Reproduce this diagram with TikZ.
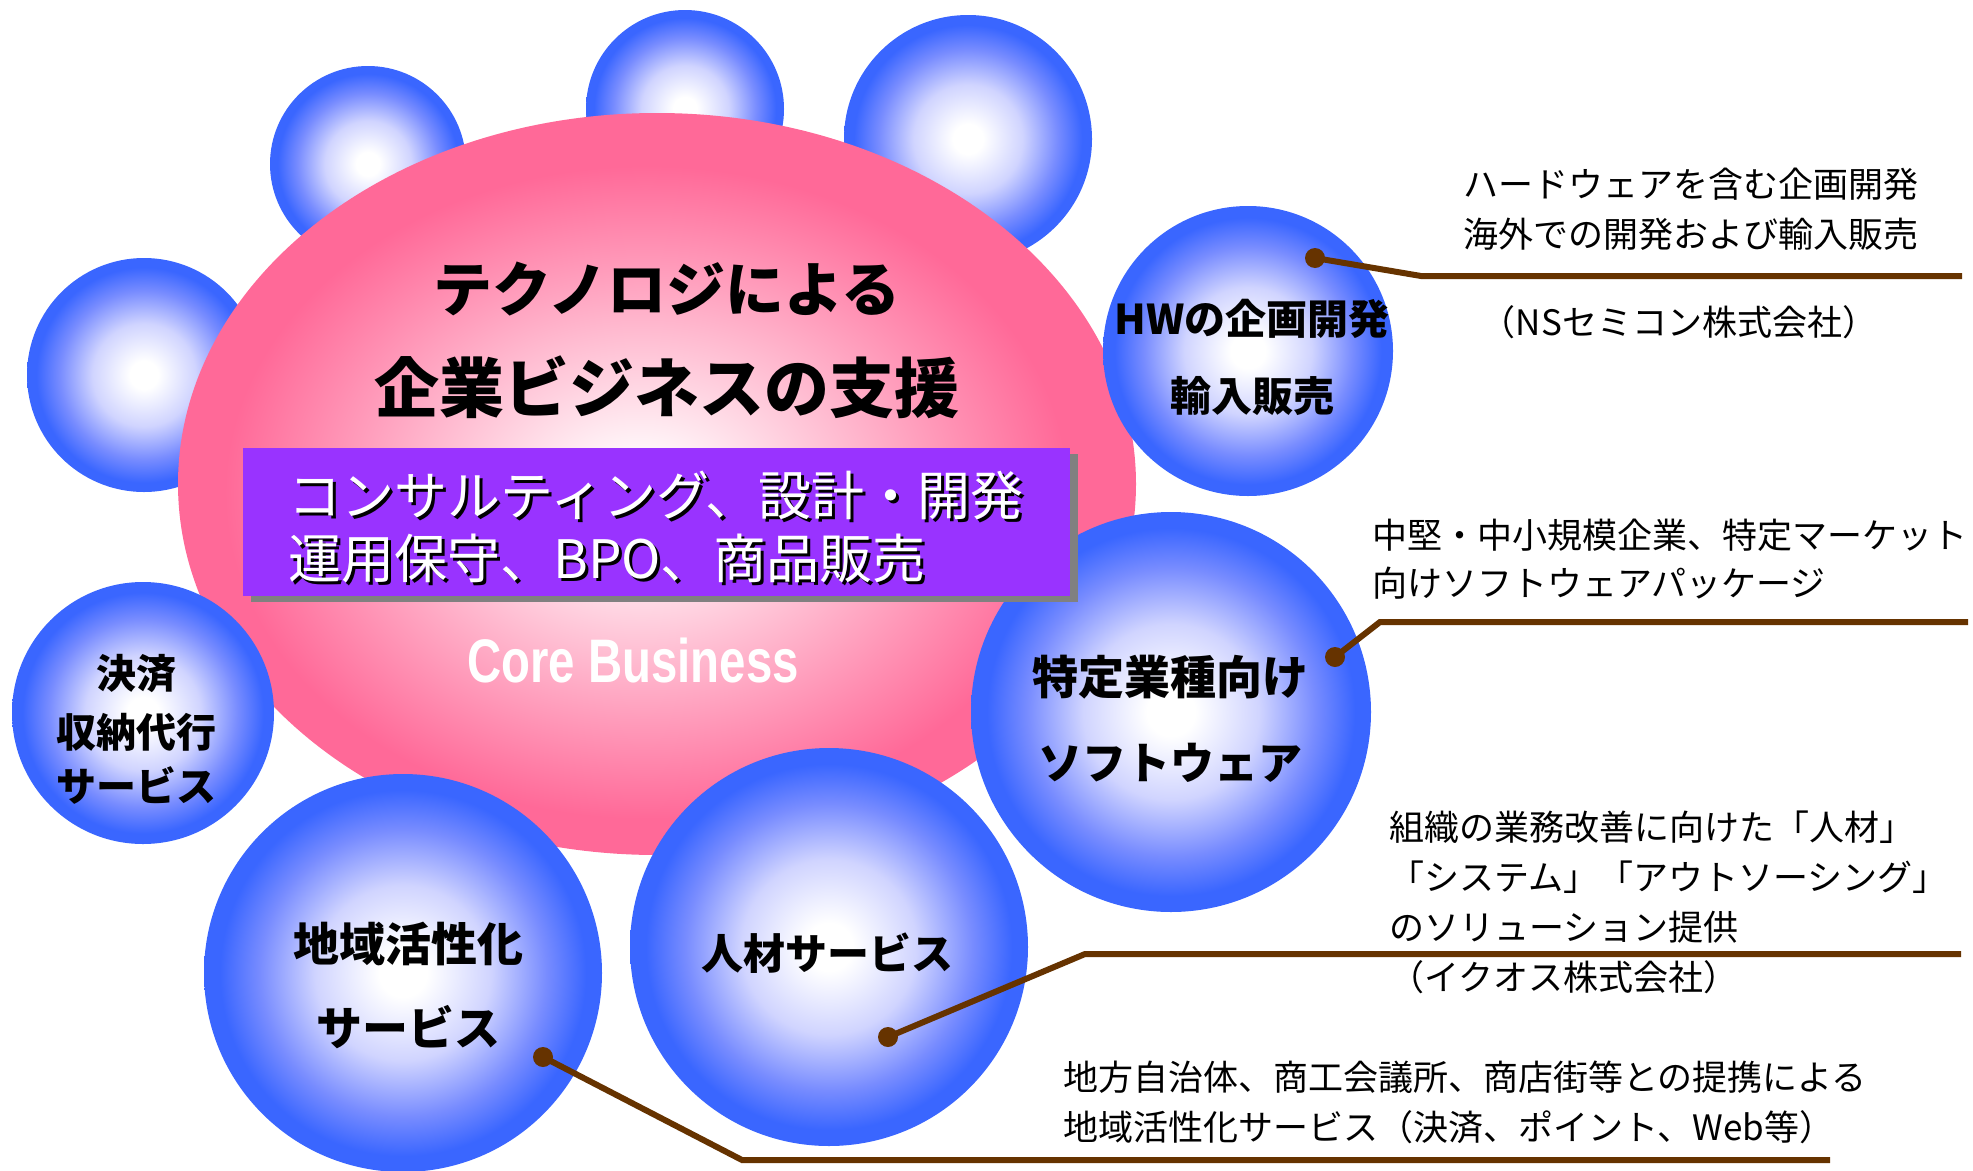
\documentclass[tikz,border=0pt]{standalone}
\usepackage{fontspec}
\setmainfont{Noto Sans CJK JP}
\newfontfamily\corefont{Liberation Sans}
\definecolor{sphblue}{RGB}{58,102,255}
\definecolor{sphmid}{RGB}{120,140,255}
\definecolor{sphlight}{RGB}{208,212,255}
\definecolor{corepink}{RGB}{255,105,152}
\definecolor{boxpurple}{RGB}{153,51,255}
\definecolor{boxshadow}{RGB}{128,128,128}
\definecolor{linebrown}{RGB}{102,51,0}
\pgfdeclareradialshading{sphere}{\pgfpoint{0bp}{0bp}}{color(0bp)=(white); color(3bp)=(white); color(11bp)=(sphlight); color(18bp)=(sphmid); color(23bp)=(sphblue); color(25bp)=(sphblue); color(50bp)=(sphblue)}
\pgfdeclareradialshading{coreshade}{\pgfpoint{-1bp}{-1bp}}{color(0bp)=(white); color(2bp)=(white); color(22bp)=(corepink); color(50bp)=(corepink)}
\tikzset{
  ball/.style={circle, inner sep=0pt, shade, shading=sphere, minimum size=#1},
  balllabel/.style={inner sep=0pt, anchor=base, font=\bfseries\fontsize{#1}{#1}\selectfont},
  desc/.style={inner sep=0pt, anchor=base west, font=\fontsize{35}{35}\selectfont},
  boxtext/.style={inner sep=0pt, anchor=base west, font=\fontsize{53}{53}\selectfont},
  leader/.style={draw=linebrown, line width=6pt, line join=miter},
  leaderdot/.style={circle, fill=linebrown, inner sep=0pt, minimum size=20pt}
}
\begin{document}
\begin{tikzpicture}[x=1pt,y=-1pt]
\useasboundingbox (0,0) rectangle (1973,1170);
% back spheres
\node[ball=196pt] (bTL) at (368,164) {};
\node[ball=198pt] (bTM) at (685,109) {};
\node[ball=248pt] (bTR) at (968,139) {};
\node[ball=234pt] (bL) at (144,375) {};
% core ellipse
\path[shade, shading=coreshade] (657,484) ellipse[x radius=479pt, y radius=371pt];
% front spheres
\node[ball=290pt] (bHW) at (1248,351) {};
\node[ball=400pt] (bSW) at (1171,712) {};
\node[ball=262pt] (bKS) at (143,713) {};
\node[ball=398pt] (bCK) at (403,973) {};
\node[ball=398pt] (bJZ) at (829,947) {};
% service box
\node[fill=boxshadow, inner sep=0pt, minimum width=827pt, minimum height=148pt, anchor=north west] (svcshadow) at (251,454) {};
\node[fill=boxpurple, inner sep=0pt, minimum width=827pt, minimum height=148pt, anchor=north west] (svcbox) at (243,448) {};
\node[boxtext, text=black] (svc1s) at (291,518) {コンサルティング、設計・開発};
\node[boxtext, text=white] (svc1) at (288,515) {コンサルティング、設計・開発};
\node[boxtext, text=black] (svc2s) at (291,581) {運用保守、BPO、商品販売};
\node[boxtext, text=white] (svc2) at (288,578) {運用保守、BPO、商品販売};
% title
\node[balllabel=59] (title1) at (667,311) {テクノロジによる};
\node[balllabel=65] (title2) at (667,412) {企業ビジネスの支援};
\node[inner sep=0pt, anchor=base, text=white, font=\corefont\bfseries\fontsize{61.5}{61.5}\selectfont, xscale=0.77, transform shape] (core) at (633,682) {Core Business};
% sphere labels
\node[balllabel=41] (hw1) at (1252,334) {HWの企画開発};
\node[balllabel=41] (hw2) at (1252,411) {輸入販売};
\node[balllabel=46] (sw1) at (1170,694) {特定業種向け};
\node[balllabel=44] (sw2) at (1170,779) {ソフトウェア};
\node[balllabel=40] (ks1) at (136,688) {決済};
\node[balllabel=40] (ks2) at (136,747) {収納代行};
\node[balllabel=40] (ks3) at (136,801) {サービス};
\node[balllabel=46] (ck1) at (408,961) {地域活性化};
\node[balllabel=46] (ck2) at (408,1045) {サービス};
\node[balllabel=42] (jz1) at (827,969) {人材サービス};
% descriptions
\node[desc] (dhw1) at (1463,197) {ハードウェアを含む企画開発};
\node[desc] (dhw2) at (1463,247) {海外での開発および輸入販売};
\node[desc, anchor=base] (dhw3) at (1679,335) {（NSセミコン株式会社）};
\node[desc] (dsw1) at (1372,548) {中堅・中小規模企業、特定マーケット};
\node[desc] (dsw2) at (1372,596) {向けソフトウェアパッケージ};
\node[desc] (djz1) at (1389,840) {組織の業務改善に向けた「人材」};
\node[desc] (djz2) at (1389,890) {「システム」「アウトソーシング」};
\node[desc] (djz3) at (1389,940) {のソリューション提供};
\node[desc] (djz4) at (1389,990) {（イクオス株式会社）};
\node[desc] (dck1) at (1063,1090) {地方自治体、商工会議所、商店街等との提携による};
\node[desc] (dck2) at (1063,1140) {地域活性化サービス（決済、ポイント、Web等）};
% leaders
\node[leaderdot] (hwdot) at (1315,258) {};
\coordinate (hwbend) at (1421,276);
\coordinate (hwend) at (1962,276);
\draw[leader] (hwdot.center) -- (hwbend) -- (hwend);
\node[leaderdot] (swdot) at (1335,657) {};
\coordinate (swbend) at (1380,622);
\coordinate (swend) at (1968,622);
\draw[leader] (swdot.center) -- (swbend) -- (swend);
\node[leaderdot] (jzdot) at (888,1037) {};
\coordinate (jzbend) at (1085,954);
\coordinate (jzend) at (1961,954);
\draw[leader] (jzdot.center) -- (jzbend) -- (jzend);
\node[leaderdot] (ckdot) at (543,1057) {};
\coordinate (ckbend) at (742,1160);
\coordinate (ckend) at (1830,1160);
\draw[leader] (ckdot.center) -- (ckbend) -- (ckend);
\end{tikzpicture}
\end{document}
